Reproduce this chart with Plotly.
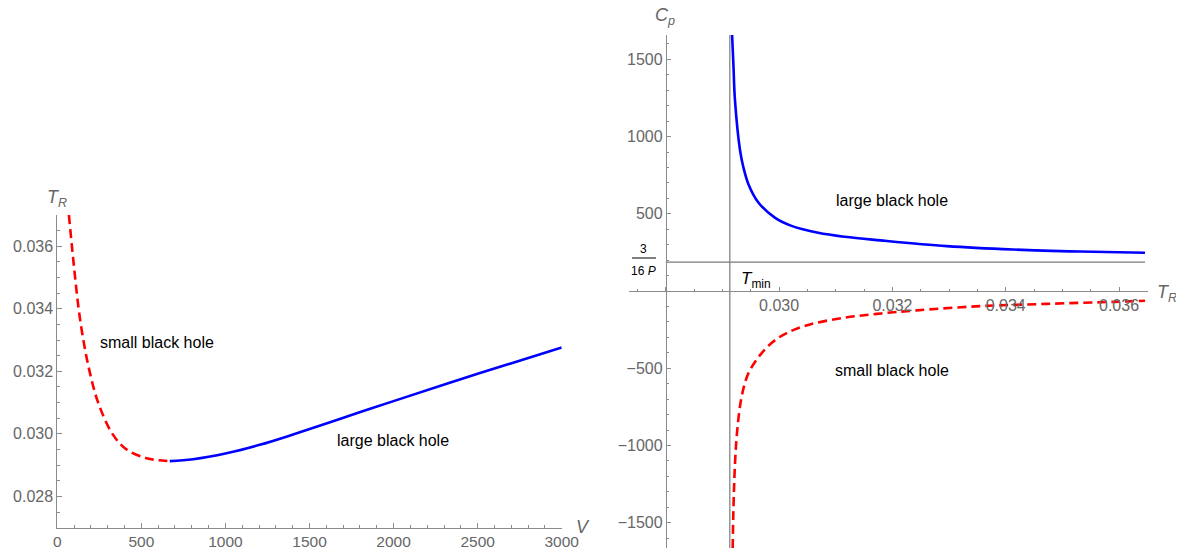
import plotly.graph_objects as go

# ---------------- data ----------------
# Left panel: T_R versus V
V_small = [69, 87, 106, 127, 155, 192, 243, 328, 412, 531, 600, 669]
T_small = [0.03700, 0.03600, 0.03500, 0.03400, 0.03300, 0.03200, 0.03100,
           0.03000, 0.02950, 0.02922, 0.02916, 0.02913]
V_large = [669, 808, 1006, 1204, 1402, 1600, 1798, 1995, 2500, 3000]
T_large = [0.02913, 0.02919, 0.02938, 0.02965, 0.02998, 0.03033, 0.03069,
           0.03104, 0.03192, 0.03276]

# Right panel: C_p versus T_R
TR_large = [0.02917, 0.029195, 0.02922, 0.02931, 0.02937, 0.02946, 0.02963,
            0.02993, 0.03022, 0.03069, 0.03116, 0.03179, 0.03296, 0.03413,
            0.03531, 0.03646]
Cp_large = [1658, 1450, 1240, 912, 800, 690, 575, 474, 422, 377, 351, 328,
            291, 269, 256, 248]
TR_small = [0.029181, 0.029192, 0.029222, 0.029262, 0.02934, 0.029456, 0.029663,
            0.029898, 0.030134, 0.030545, 0.031133, 0.031723, 0.032429,
            0.033546, 0.034724, 0.0359, 0.036459]
Cp_small = [-1664, -1437, -1113, -897, -681, -534, -415, -327, -272, -216,
            -174, -148, -125, -98, -83, -70, -63]

T_MIN = 0.02913          # vertical reference line
C_REF = 187.5            # 3/(16P)
T_ORIGIN = 0.028         # where the right-panel axes cross

# ---------------- layout helpers ----------------
# page body keeps an 8px margin, so the figure starts at (8, 8) of the window
OFF = 8
W, H = 1184 - OFF, 548 - OFF
def px(x):
    return (x - OFF) / W
def py(y):
    return 1 - (y - OFF) / H

RED = "#ff0000"
BLUE = "#0000ff"
AX = "#8c8c8c"
TXT = "#666666"
FONT = "Liberation Sans, Arial, sans-serif"
TICKF = dict(family=FONT, size=16, color=TXT)

fig = go.Figure()

# left panel curves
fig.add_trace(go.Scatter(x=V_small, y=T_small, mode="lines", xaxis="x", yaxis="y",
                         line=dict(color=RED, width=2.6, dash="9px,5px", shape="spline", smoothing=1.0),
                         showlegend=False, hoverinfo="skip"))
fig.add_trace(go.Scatter(x=V_large, y=T_large, mode="lines", xaxis="x", yaxis="y",
                         line=dict(color=BLUE, width=2.6, shape="spline", smoothing=1.0),
                         showlegend=False, hoverinfo="skip"))

# right panel reference lines
fig.add_trace(go.Scatter(x=[T_MIN, T_MIN], y=[-1700, 1700], mode="lines", xaxis="x2", yaxis="y2",
                         line=dict(color="#7a7a7a", width=1.2), showlegend=False, hoverinfo="skip"))
fig.add_trace(go.Scatter(x=[T_ORIGIN, TR_large[-1]], y=[C_REF, C_REF], mode="lines", xaxis="x2", yaxis="y2",
                         line=dict(color="#7a7a7a", width=1.2), showlegend=False, hoverinfo="skip"))

# right panel curves
fig.add_trace(go.Scatter(x=TR_large, y=Cp_large, mode="lines", xaxis="x2", yaxis="y2",
                         line=dict(color=BLUE, width=2.6, shape="spline", smoothing=1.0),
                         showlegend=False, hoverinfo="skip"))
fig.add_trace(go.Scatter(x=TR_small, y=Cp_small, mode="lines", xaxis="x2", yaxis="y2",
                         line=dict(color=RED, width=2.6, dash="9px,5px", shape="spline", smoothing=1.0),
                         showlegend=False, hoverinfo="skip"))

# axis geometry
x1_dom = [px(57.3), px(561.7)]
y1_dom = [py(527.7), py(215)]
x2_range = [0.02735, 0.036512]
x2_dom = [px(629), px(1148)]
y2_range = [-1664, 1658]
y2_dom = [0.0, py(35)]
x2_pos = y2_dom[0] + (0 - y2_range[0]) / (y2_range[1] - y2_range[0]) * (y2_dom[1] - y2_dom[0])
y2_pos = x2_dom[0] + (T_ORIGIN - x2_range[0]) / (x2_range[1] - x2_range[0]) * (x2_dom[1] - x2_dom[0])

common = dict(showline=True, linecolor=AX, linewidth=1, showgrid=False, zeroline=False,
              ticks="inside", ticklen=4.5, tickwidth=1, tickcolor=AX,
              automargin=False)

fig.update_layout(
    width=W, height=H,
    margin=dict(l=0, r=0, t=0, b=0),
    paper_bgcolor="white", plot_bgcolor="white",
    showlegend=False,
    xaxis=dict(domain=x1_dom, range=[0, 3000], anchor="y", tick0=0, dtick=500,
               tickfont=dict(family=FONT, size=15.5, color=TXT),
               minor=dict(ticks="inside", ticklen=2.5, tickcolor=AX, tick0=0, dtick=100),
               **common),
    yaxis=dict(domain=y1_dom, range=[0.027, 0.037], anchor="x", tick0=0.028, dtick=0.002,
               tickformat=".3f", tickfont=TICKF,
               minor=dict(ticks="inside", ticklen=2.5, tickcolor=AX, tick0=0.027, dtick=0.0005),
               **common),
    xaxis2=dict(domain=x2_dom, range=x2_range, anchor="free", position=x2_pos,
                tick0=0.028, dtick=0.002, tickformat=".3f", labelalias={"0.028": ""},
                tickfont=TICKF,
                minor=dict(ticks="inside", ticklen=2.5, tickcolor=AX, tick0=0.0275, dtick=0.0005),
                **common),
    yaxis2=dict(domain=y2_dom, range=y2_range, anchor="free", position=y2_pos,
                tick0=0, dtick=500, labelalias={"0": ""}, tickfont=TICKF,
                minor=dict(ticks="inside", ticklen=2.5, tickcolor=AX, tick0=0, dtick=100),
                **common),
)

LBL = dict(family=FONT, size=18, color=TXT)
TXTF = dict(family=FONT, size=16, color="black")

annos = [
    # axis labels
    dict(x=px(57), y=py(198), text="<i>T</i><sub><i>R</i></sub>", font=LBL),
    dict(x=px(583), y=py(527), text="<i>V</i>", font=LBL),
    dict(x=px(665), y=py(16), text="<i>C</i><sub><i>p</i></sub>", font=LBL),
    dict(x=px(1167), y=py(293), text="<i>T</i><sub><i>R</i></sub>", font=LBL),
    # region labels
    dict(x=px(157), y=py(342), text="small black hole", font=TXTF),
    dict(x=px(393), y=py(440), text="large black hole", font=TXTF),
    dict(x=px(892), y=py(200), text="large black hole", font=TXTF),
    dict(x=px(892), y=py(370), text="small black hole", font=TXTF),
    # T_min and 3/(16P)
    dict(x=px(739), y=py(280), text="<i>T</i><sub>min</sub>", xanchor="left",
         font=dict(family=FONT, size=17, color="black")),
    dict(x=px(643.5), y=py(248.5), text="3", font=dict(family=FONT, size=12, color="black")),
    dict(x=px(643.5), y=py(271), text="16 <i>P</i>", font=dict(family=FONT, size=12, color="black")),
]
for a in annos:
    a.update(xref="paper", yref="paper", showarrow=False)
    a.setdefault("xanchor", "center")
    a.setdefault("yanchor", "middle")
fig.update_layout(annotations=annos)

fig.add_shape(type="line", xref="paper", yref="paper", x0=px(632), x1=px(656),
              y0=py(258), y1=py(258), line=dict(color="black", width=1))

fig.write_html("out.html")
